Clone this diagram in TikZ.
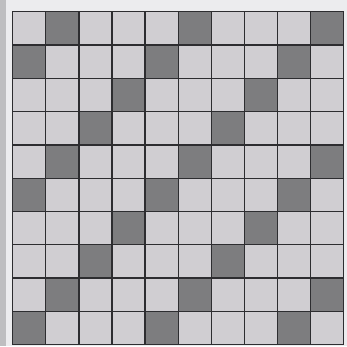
\documentclass[tikz,border=0pt]{standalone}
\definecolor{bgc}{RGB}{236,236,238}
\definecolor{edgec}{RGB}{190,190,192}
\definecolor{lightc}{RGB}{208,206,210}
\definecolor{darkc}{RGB}{125,125,127}
\definecolor{linec}{RGB}{45,45,48}
\begin{document}
\begin{tikzpicture}[x=1pt,y=-1pt,
  cellbase/.style={draw=linec,line width=1.3pt,minimum width=33.1pt,minimum height=33.3pt,inner sep=0pt,anchor=north west},
  cell/.style={cellbase,fill=lightc},
  darkcell/.style={cellbase,fill=darkc}]
\useasboundingbox (0,0) rectangle (347,346);
\fill[bgc] (0,0) rectangle (347,346);
\fill[edgec] (0,0) rectangle (6,346);
\foreach \r in {0,...,9}{
  \foreach \c in {0,...,9}{
    \pgfmathtruncatemacro{\m}{mod(\r+\c,4)}
    \ifnum\m=1
      \node[darkcell] (c\r\c) at ({12+33.1*\c},{11+33.3*\r}) {};
    \else
      \node[cell] (c\r\c) at ({12+33.1*\c},{11+33.3*\r}) {};
    \fi
  }
}
\end{tikzpicture}
\end{document}
